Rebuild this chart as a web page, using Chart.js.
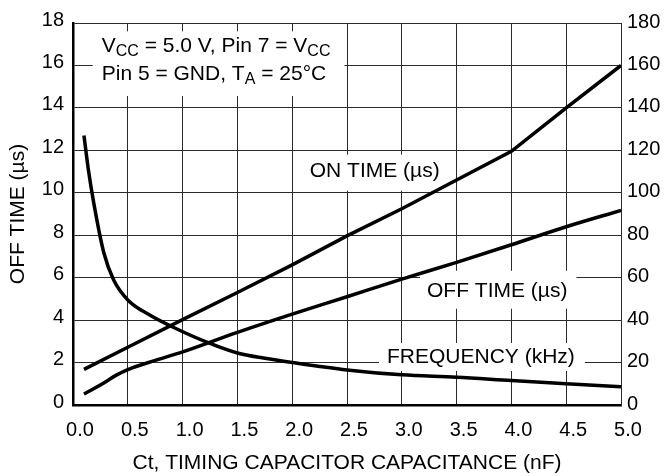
<!DOCTYPE html>
<html><head><meta charset="utf-8">
<script src="https://cdn.jsdelivr.net/npm/chart.js@4/dist/chart.umd.min.js"></script>
<style>html,body{margin:0;padding:0;background:#fff}#wrap{width:666px;height:476px;position:relative}</style>
</head><body><div id="wrap"><canvas id="c"></canvas></div>
<script>
// ---- data ----
const onTimeCt   = [0.1, 0.5, 1.0, 1.5, 2.0, 2.5, 3.0, 3.5, 4.0, 4.5, 5.0];
const onTimeUs   = [1.68, 2.72, 4.02, 5.3, 6.6, 7.97, 9.25, 10.6, 11.95, 14.0, 16.0];
const offTimeCt  = [0.1, 0.2, 0.3, 0.4, 0.5, 0.75, 1.0, 1.5, 2.0, 2.5, 3.0, 3.5, 4.0, 4.5, 5.0];
const offTimeUs  = [0.52, 0.8, 1.1, 1.42, 1.67, 2.1, 2.5, 3.42, 4.28, 5.1, 5.93, 6.72, 7.55, 8.4, 9.17];
const freqCt     = [0.1, 0.14, 0.19, 0.28, 0.37, 0.5, 0.7, 0.9, 1.25, 1.5, 1.75, 2.0, 2.5, 3.0, 3.5, 4.0, 4.5, 5.0];
const freqKHz    = [127, 111, 95, 72, 59, 49.5, 42.4, 37, 29, 24.5, 22, 20, 16.5, 14.2, 13.1, 11.5, 10.0, 8.6];
const xTitle = 'Ct, TIMING CAPACITOR CAPACITANCE (nF)';
const yTitle = 'OFF TIME (\u00B5s)';

const FONT = "'Liberation Sans', Arial, Helvetica, sans-serif";
const pts = (xs, ys) => xs.map((x, i) => ({x, y: ys[i]}));

// text annotations (anchor in data units of x / left y axis)
const notes = [
  {x: 0.262, y: 16.62, lineGap: 27.7, pad: {l: 9, r: 14, t: 21, b: 16},
   lines: [
     [{t:'V'},{t:'CC',sub:true},{t:' = 5.0 V, Pin 7 = V'},{t:'CC',sub:true}],
     [{t:'Pin 5 = GND, T'},{t:'A',sub:true},{t:' = 25\u00B0C'}]
   ]},
  {x: 2.16, y: 10.76, lineGap: 0, pad: {l: 8, r: 8, t: 22, b: 14}, lines: [[{t:'ON TIME (\u00B5s)'}]]},
  {x: 3.23, y: 5.10, lineGap: 0, pad: {l: 7, r: 9, t: 26, b: 12}, lines: [[{t:'OFF TIME (\u00B5s)'}]]},
  {x: 2.865, y: 1.98, lineGap: 0, pad: {l: 8, r: 10, t: 20, b: 8}, lines: [[{t:'FREQUENCY (kHz)'}]]}
];

const notePlugin = {
  id: 'notes',
  beforeDatasetsDraw(chart) {
    const ctx = chart.ctx, xs = chart.scales.x, ys = chart.scales.y;
    ctx.save();
    ctx.textBaseline = 'alphabetic';
    ctx.textAlign = 'left';
    const main = '21px ' + FONT, sub = '16px ' + FONT;
    notes.forEach(n => {
      const x0 = xs.getPixelForValue(n.x), y0 = ys.getPixelForValue(n.y);
      let maxW = 0;
      n.lines.forEach(line => {
        let w = 0;
        line.forEach(s => { ctx.font = s.sub ? sub : main; w += ctx.measureText(s.t).width; });
        maxW = Math.max(maxW, w);
      });
      const h = n.lineGap * (n.lines.length - 1);
      ctx.fillStyle = '#fff';
      ctx.fillRect(x0 - n.pad.l, y0 - n.pad.t, maxW + n.pad.l + n.pad.r, h + n.pad.t + n.pad.b);
      ctx.fillStyle = '#000';
      n.lines.forEach((line, li) => {
        let cx = x0; const by = y0 + li * n.lineGap;
        line.forEach(s => {
          ctx.font = s.sub ? sub : main;
          ctx.fillText(s.t, cx, s.sub ? by + 4 : by);
          cx += ctx.measureText(s.t).width;
        });
      });
    });
    ctx.restore();
  }
};

const lineStyle = {borderColor: '#000', borderWidth: 3.5, pointRadius: 0, fill: false};
const tickFont = {family: FONT, size: 20};
const titleFont = {family: FONT, size: 21};
const gridColor = '#2a2a2a';

new Chart(document.getElementById('c'), {
  type: 'line',
  data: {
    datasets: [
      {...lineStyle, label: 'ON TIME (\u00B5s)', data: pts(onTimeCt, onTimeUs), tension: 0, yAxisID: 'y'},
      {...lineStyle, label: 'OFF TIME (\u00B5s)', data: pts(offTimeCt, offTimeUs), cubicInterpolationMode: 'monotone', yAxisID: 'y'},
      {...lineStyle, label: 'FREQUENCY (kHz)', data: pts(freqCt, freqKHz), cubicInterpolationMode: 'monotone', yAxisID: 'y1'}
    ]
  },
  options: {
    responsive: true, maintainAspectRatio: false, animation: false,
    layout: {padding: {top: 23, left: 0, right: 0, bottom: 0}},
    plugins: {legend: {display: false}, tooltip: {enabled: false}},
    scales: {
      x: {
        type: 'linear', min: 0, max: 5,
        ticks: {stepSize: 0.5, autoSkip: false, maxRotation: 0, color: '#000', font: tickFont, padding: 13, labelOffset: 7,
                callback: v => Number(v).toFixed(1)},
        grid: {color: gridColor, lineWidth: 1, drawTicks: false},
        border: {color: '#000', width: 2.5},
        title: {display: true, text: xTitle, color: '#000', font: titleFont, padding: {top: 0, bottom: 0}},
        afterFit(s) { s.height = 71; }
      },
      y: {
        position: 'left', min: 0, max: 18,
        ticks: {stepSize: 2, color: '#000', font: tickFont, padding: 9, labelOffset: -3},
        grid: {color: gridColor, lineWidth: 1, drawTicks: false},
        border: {color: '#000', width: 2.5},
        title: {display: true, text: yTitle, color: '#000', font: titleFont, padding: {top: 6, bottom: 0}},
        afterFit(s) { s.width = 73; }
      },
      y1: {
        position: 'right', min: 0, max: 180,
        ticks: {stepSize: 20, color: '#000', font: tickFont, padding: 6, labelOffset: -1},
        grid: {display: false, drawTicks: false},
        border: {color: gridColor, width: 1},
        afterFit(s) { s.width = 45; }
      }
    }
  },
  plugins: [notePlugin]
});
</script>
</body></html>
